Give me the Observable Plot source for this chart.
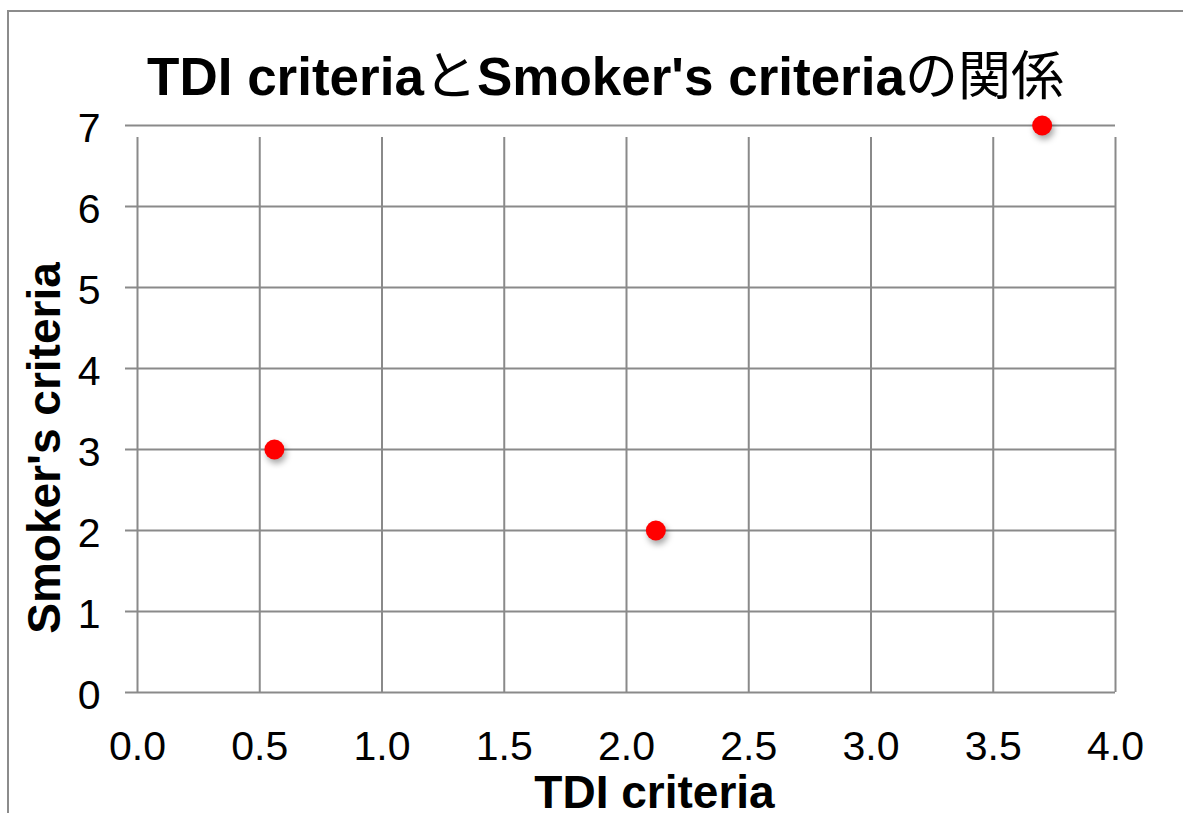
<!DOCTYPE html>
<html>
<head>
<meta charset="utf-8">
<script src="https://cdn.jsdelivr.net/npm/d3@7"></script>
<script src="https://cdn.jsdelivr.net/npm/@observablehq/plot@0.6"></script>
<style>
  html, body { margin: 0; padding: 0; background: #fff; }
  #wrap { position: relative; width: 1183px; height: 813px; overflow: hidden; }
  #border { position: absolute; left: 7px; top: 10px; width: 1200px; height: 900px;
            border-top: 2px solid #8c8c8c; border-left: 2px solid #8c8c8c; pointer-events: none; }
  #chart { position: absolute; left: 0; top: 0; }
  g[aria-label="dot"] circle { filter: drop-shadow(2px 4px 3px rgba(0,0,0,0.35)); }
</style>
</head>
<body>
<div id="wrap"><div id="chart"></div><div id="border"></div></div>
<script>
const tdi = [0.56, 2.12, 3.70];
const smoker = [3, 2, 7];
const xTicks = [0, 0.5, 1.0, 1.5, 2.0, 2.5, 3.0, 3.5, 4.0];
const yTicks = [0, 1, 2, 3, 4, 5, 6, 7];
const titleText = "TDI criteriaとSmoker's criteriaの関係";
const xLabel = "TDI criteria";
const yLabel = "Smoker's criteria";

const points = tdi.map((x, i) => ({x, y: smoker[i]}));
const gridColor = "#8a8a8a";
const latin = "Liberation Sans, Arial, Helvetica, sans-serif";

const chart = Plot.plot({
  width: 1183,
  height: 813,
  marginLeft: 137,
  marginRight: 68,
  marginTop: 125,
  marginBottom: 121,
  style: { fontFamily: latin, background: "transparent", overflow: "visible" },
  x: { domain: [0, 4], axis: null },
  y: { domain: [0, 7], axis: null },
  marks: [
    Plot.ruleX(xTicks, { x: d => d, y1: 0, y2: 7, insetBottom: -12, stroke: gridColor, strokeWidth: 2 }),
    Plot.ruleY(yTicks, { y: d => d, x1: 0, x2: 4, insetLeft: -12, stroke: gridColor, strokeWidth: 2 }),
    Plot.axisX(xTicks, { tickSize: 0, tickPadding: 38, fontSize: 41, tickFormat: d3.format(".1f"), fill: "#000", label: null }),
    Plot.axisY(yTicks, { tickSize: 0, tickPadding: 37, fontSize: 41, tickFormat: d3.format("d"), fill: "#000", dy: 3, label: null }),
    Plot.dot(points, { x: "x", y: "y", r: 10, fill: "#ff0000", stroke: "none" }),
    Plot.text([titleText], { text: d => d, frameAnchor: "top", textAnchor: "middle", lineAnchor: "bottom", dx: -21, dy: -31,
      fontSize: 53, fontWeight: "bold", fill: "#000" }),
    Plot.text([xLabel], { text: d => d, frameAnchor: "bottom", textAnchor: "middle", lineAnchor: "bottom", dx: 28, dy: 115,
      fontSize: 46, fontWeight: "bold", fill: "#000" }),
    Plot.text([yLabel], { text: d => d, frameAnchor: "left", textAnchor: "middle", lineAnchor: "middle", rotate: -90, dx: -92, dy: 39,
      fontSize: 46, fontWeight: "bold", fill: "#000" })
  ]
});
document.getElementById("chart").appendChild(chart);

// Split the title into Latin (bold) and Japanese (regular) runs
const t = Array.from(chart.querySelectorAll("text")).find(el => el.textContent === titleText);
if (t) {
  const parts = titleText.match(/[A-Za-z0-9' ]+|[^A-Za-z0-9' ]+/g);
  t.textContent = "";
  for (const p of parts) {
    const span = document.createElementNS("http://www.w3.org/2000/svg", "tspan");
    span.textContent = p;
    if (/[A-Za-z]/.test(p)) {
      span.setAttribute("font-family", latin);
      span.setAttribute("font-weight", "bold");
    } else {
      span.setAttribute("font-family", "Noto Sans CJK JP, sans-serif");
      span.setAttribute("font-weight", "normal");
    }
    t.appendChild(span);
  }
}
</script>
</body>
</html>
